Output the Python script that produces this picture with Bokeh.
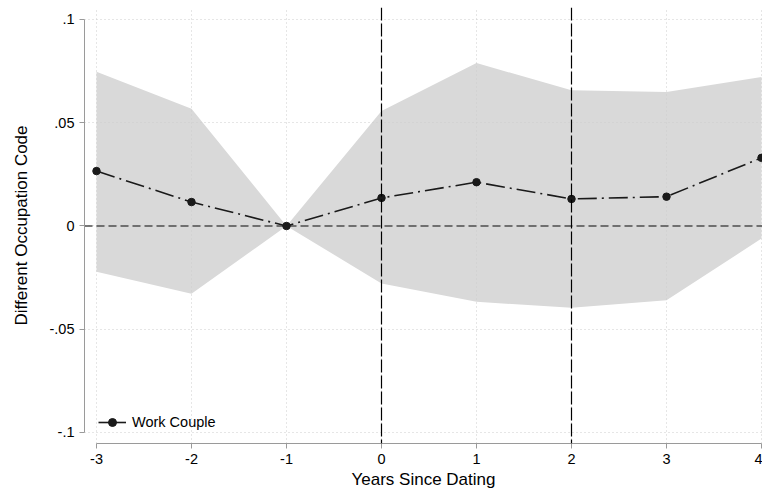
import numpy as np
from bokeh.plotting import figure
from bokeh.models import Span, Range1d, FixedTicker, Legend, LegendItem
from bokeh.embed import file_html
from bokeh.resources import INLINE

# Data
years = [-3, -2, -1, 0, 1, 2, 3, 4]
coef = [0.0266, 0.0116, 0.0, 0.0136, 0.0212, 0.0131, 0.0142, 0.0330]
upper = [0.0747, 0.0568, 0.0, 0.0557, 0.0789, 0.0657, 0.0649, 0.0722]
lower = [-0.0221, -0.0328, 0.0, -0.0278, -0.0367, -0.0396, -0.0360, -0.0061]
x_ticks = [-3, -2, -1, 0, 1, 2, 3, 4]
x_tick_labels = ["-3", "-2", "-1", "0", "1", "2", "3", "4"]
y_ticks = [-0.1, -0.05, 0.0, 0.05, 0.1]
y_tick_labels = ["-.1", "-.05", "0", ".05", ".1"]
vlines = [0, 2]
series_name = "Work Couple"

FONT = "Liberation Sans"

p = figure(width=762, height=498, output_backend="svg", toolbar_location=None,
           x_range=Range1d(-3.1263, 4.0105), y_range=Range1d(-0.10533, 0.10581),
           min_border_left=84, min_border_right=0, min_border_top=7, min_border_bottom=55)
p.outline_line_color = None
p.background_fill_color = "white"
p.border_fill_color = "white"

# confidence band
p.varea(x=years, y1=lower, y2=upper, fill_color="#d9d9d9", level="image")

# grids
for g in (p.xgrid, p.ygrid):
    g.grid_line_color = "#cdcdcd"
    g.grid_line_dash = "1 3"
    g.grid_line_width = 1
p.xgrid.ticker = FixedTicker(ticks=x_ticks)
p.ygrid.ticker = FixedTicker(ticks=y_ticks)

# zero line
zl = Span(location=0, dimension="width", line_color="#4d4d4d", line_dash="8 4",
          line_width=1.3, level="underlay")
p.add_layout(zl)

for v in vlines:
    p.add_layout(Span(location=v, dimension="height", line_color="black",
                      line_dash="13 3", line_width=1.2))

p.line(years, coef, line_color="#1a1a1a", line_width=1.6, line_dash="19 5 2 5")
pts = p.scatter(years, coef, size=7.5, fill_color="#1a1a1a", line_color="#1a1a1a")

# legend: solid line glyph (invisible NaN data, legend only) plus the real markers
lg_line = p.line(years, np.full(len(years), np.nan), line_color="#1a1a1a", line_width=1.6)
legend = Legend(items=[LegendItem(label=series_name, renderers=[lg_line, pts], index=0)],
                location=(14, 11), padding=0, margin=0, spacing=0,
                glyph_width=28, glyph_height=20, label_standoff=6,
                label_text_font=FONT, label_text_font_size="14.5px",
                label_text_color="black", background_fill_alpha=0,
                border_line_color=None)
p.add_layout(legend)

# axes
xa = p.xaxis[0]
ya = p.yaxis[0]
xa.ticker = FixedTicker(ticks=x_ticks)
ya.ticker = FixedTicker(ticks=y_ticks)
xa.major_label_overrides = {t: l for t, l in zip(x_ticks, x_tick_labels)}
ya.major_label_overrides = {t: l for t, l in zip(y_ticks, y_tick_labels)}
xa.bounds = (x_ticks[0], x_ticks[-1])
ya.bounds = (y_ticks[0], y_ticks[-1])
xa.axis_label = "Years Since Dating"
ya.axis_label = "Different Occupation Code"
for a in (xa, ya):
    a.axis_line_color = "#9a9a9a"
    a.axis_line_width = 1
    a.major_tick_line_color = "#9a9a9a"
    a.major_tick_out = 5
    a.major_tick_in = 0
    a.minor_tick_line_color = None
    a.major_label_text_font = FONT
    a.major_label_text_font_size = "14.5px"
    a.major_label_text_color = "black"
    a.axis_label_text_font = FONT
    a.axis_label_text_font_size = "17px"
    a.axis_label_text_font_style = "normal"
    a.axis_label_text_color = "black"
xa.major_label_standoff = 5
xa.axis_label_standoff = 3
ya.major_label_standoff = 5
ya.major_label_orientation = "horizontal"
ya.axis_label_standoff = 16

open("out.html", "w").write(file_html(p, INLINE))
